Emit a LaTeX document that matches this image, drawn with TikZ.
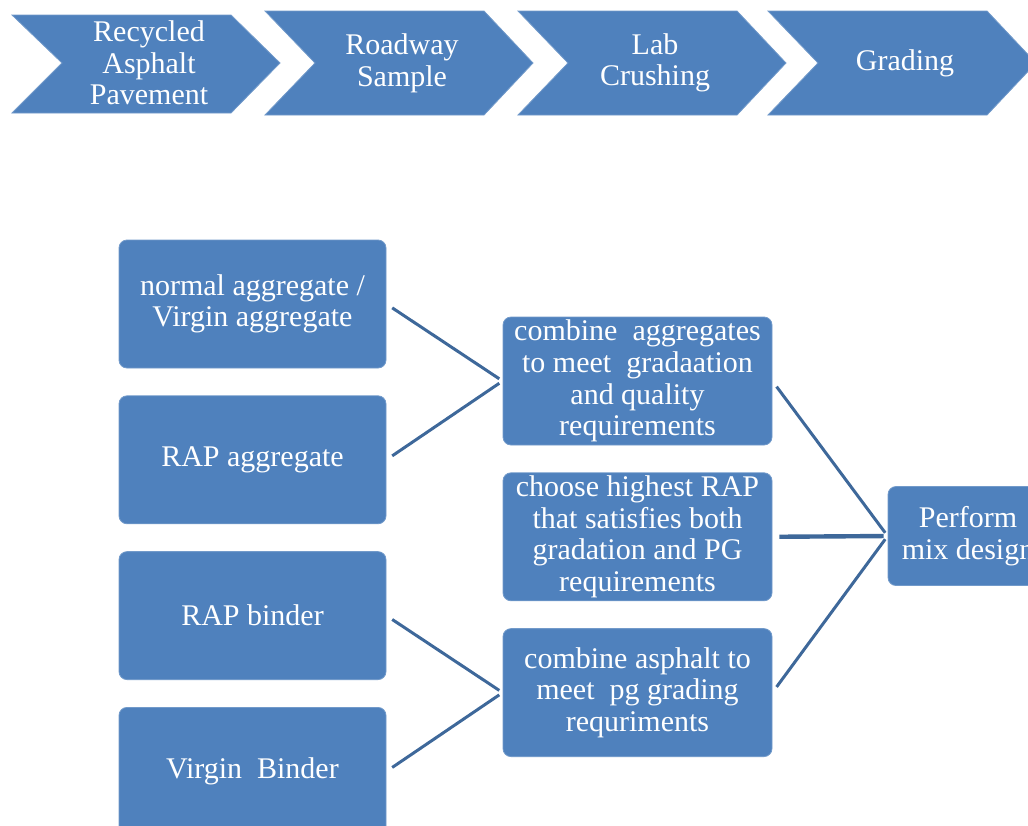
\documentclass[tikz,border=0pt]{standalone}
\usepackage{fontspec}
\setmainfont{Liberation Serif}
\newfontfamily\timesfont{Liberation Serif}
\usetikzlibrary{positioning}
\definecolor{myblue}{RGB}{79,129,189}
\definecolor{mydarkblue}{RGB}{62,104,154}
\newcommand{\boxfont}{\timesfont\fontsize{15}{15.8}\selectfont}
\tikzset{
  box/.style={draw=myblue!80!white,line width=0.4pt,fill=myblue,rounded corners=4pt,
    text=white,align=center,font=\boxfont,inner sep=1pt},
  box in/.style={box,minimum width=133.5pt,minimum height=64pt},
  box mid/.style={box,minimum width=134.5pt,minimum height=64pt},
  box out/.style={box,minimum width=80pt,minimum height=49.5pt},
  chevron/.style={fill=myblue,draw=myblue!80!white,line width=0.4pt},
  chevron text/.style={text=white,align=center,font=\boxfont},
  connect/.style={draw=mydarkblue,line width=1.5pt,shorten <=3.5pt,shorten >=2pt}
}

\begin{document}
\begin{tikzpicture}[x=0.5pt,y=-0.5pt]
\clip (0,0) rectangle (1028,825);

% -------- Process chevrons --------
\foreach \L/\t/\b/\txt [count=\i] in {
  12/15/113/{Recycled\\Asphalt\\Pavement},
  265/11/115/{Roadway\\Sample},
  518/11/115/{Lab\\Crushing},
  768/11/115/{Grading}}{
  \draw[chevron] (\L,\t) -- (\L+219,\t) -- (\L+268,63) -- (\L+219,\b)
    -- (\L,\b) -- (\L+50,63) -- cycle;
  \node[chevron text] (chev\i) at (\L+137,63) {\txt};
}

% -------- Input materials --------
\node[box in] (virgagg) at (252.5,304) {normal aggregate /\\Virgin aggregate};
\node[box in, below=13.5pt of virgagg] (rapagg) {RAP aggregate};
\node[box in, below=13.5pt of rapagg] (rapbind) {RAP binder};
\node[box in, below=13.5pt of rapbind] (virgbind) {Virgin\ \ Binder};

% -------- Combination steps --------
\node[box mid] (combagg) at (637.5,381)
  {combine\ \ aggregates\\to meet\ \ gradaation\\and quality\\requirements};
\node[box mid, below=13.5pt of combagg] (choose)
  {choose highest RAP\\that satisfies both\\gradation and PG\\requirements};
\node[box mid, below=13.5pt of choose] (combasph)
  {combine asphalt to\\meet\ \ pg grading\\requriments};

% -------- Mix design --------
\node[box out] (mix) at (968,536) {Perform\\mix design};

% Connections
\draw[connect] (virgagg.east) -- (combagg.west);
\draw[connect] (rapagg.east) -- (combagg.west);
\draw[connect] (rapbind.east) -- (combasph.west);
\draw[connect] (virgbind.east) -- (combasph.west);
\draw[connect] (combagg.east) -- (mix.west);
\draw[connect,line width=2.2pt] (choose.east) -- (mix.west);
\draw[connect] (combasph.east) -- (mix.west);

\end{tikzpicture}
\end{document}
